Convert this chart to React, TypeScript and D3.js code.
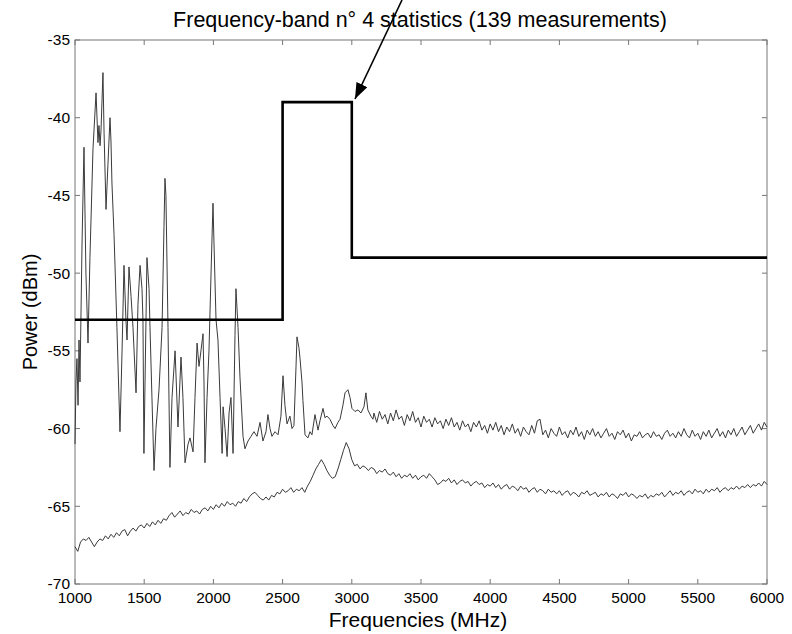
import React from "react";
import * as d3 from "d3";

const xTicks = [1000, 1500, 2000, 2500, 3000, 3500, 4000, 4500, 5000, 5500, 6000];
const yTicks = [-35, -40, -45, -50, -55, -60, -65, -70];

const limitFreq = [1000, 2500, 2500, 3000, 3000, 6000];
const limitVal = [-53, -53, -39, -39, -49, -49];

const upperSpikes: [number, number][] = [
  [1000,-61],[1007,-57],[1014,-55.5],[1022,-58.5],[1029,-54.3],[1036,-57],[1051,-48],[1065,-41.9],[1072,-46],[1079,-50],
  [1094,-54.5],[1108,-49],[1130,-42],[1152,-38.4],[1166,-41.6],[1173,-40.5],[1181,-41.8],[1188,-40.8],[1202,-37.1],[1210,-41],
  [1224,-45.9],[1238,-43],[1253,-40],[1260,-41.5],[1267,-44.2],[1282,-47.5],[1303,-53.5],[1325,-60.2],[1340,-55],[1354,-49.5],
  [1368,-53],[1376,-54.3],[1390,-49.6],[1405,-51.5],[1419,-53.5],[1441,-57.7],[1455,-52],[1470,-49.5],[1484,-51],[1491,-53],
  [1498,-61.6],[1513,-53],[1520,-49],[1535,-51],[1542,-53.5],[1556,-58],[1571,-62.7],[1585,-60],[1607,-57.5],[1629,-53.5],
  [1643,-47],[1650,-43.9],[1657,-45],[1672,-53.5],[1686,-62.5],[1701,-58],[1723,-55],[1744,-59.9],[1766,-55.4],[1780,-58],
  [1795,-62.2],[1817,-61],[1831,-60.6],[1853,-61.5],[1867,-58],[1882,-54.5],[1896,-56],[1910,-55],[1925,-53.9],[1932,-57],
  [1939,-62.2],[1954,-58],[1968,-55],[1983,-50],[1997,-45.5],[2004,-48],[2019,-53],[2033,-54.3],[2048,-58],[2063,-61.6],
  [2070,-58.6],[2084,-60],[2099,-61.8],[2113,-59],[2127,-58],[2142,-61.6],[2156,-54],[2163,-51],[2178,-53.5],[2192,-56.7],
  [2214,-60.5],[2228,-61.3],[2250,-60.8],[2272,-60.5],[2293,-60.2],[2315,-60.5],[2337,-59.6],[2358,-60.8],[2380,-60.2],[2394,-59.1],
  [2409,-60],[2423,-60.5],[2445,-60.2],[2467,-60.4],[2488,-59.2],[2503,-56.6],[2517,-58.5],[2532,-59.7],[2553,-59.2],[2568,-60],
  [2582,-59.8],[2597,-56],[2604,-54.1],[2618,-54.8],[2626,-55.5],[2640,-57],[2647,-58.2],[2662,-60.4],[2683,-60.6],[2698,-60.2],
  [2712,-60.4],[2734,-59.1],[2756,-60.1],[2770,-59.5],[2792,-58.7],[2806,-59.3],[2821,-59.2],[2842,-59.4],[2864,-59.8],[2879,-60],
  [2900,-59.6],[2915,-59.4],[2936,-58.5],[2951,-57.7],[2972,-57.5],[2987,-58],[3001,-58.7],[3023,-58.9],[3045,-58.8],[3066,-59],
  [3088,-58.6],[3102,-57.7],[3116,-58.8],[3138,-59.2],[3153,-59.4]
];

// upper trace, 3160..6000 MHz every 20 MHz
const upperTailStart = 3160;
const upperTailVal = [
  -59.0,-59.6,-58.9,-59.4,-59.1,-59.7,-59.0,-59.5,-58.8,-59.4,
  -59.2,-59.8,-59.1,-59.5,-58.9,-59.6,-59.3,-59.9,-59.2,-59.6,
  -59.4,-59.9,-59.3,-59.7,-59.5,-60.0,-59.4,-59.8,-59.3,-59.9,
  -59.6,-60.1,-59.5,-59.9,-59.7,-60.2,-59.6,-59.9,-59.5,-60.1,
  -59.8,-60.3,-59.7,-60.1,-59.6,-60.2,-59.8,-60.4,-59.9,-60.2,
  -59.7,-60.3,-60.0,-60.5,-59.9,-60.2,-60.4,-59.8,-60.3,-59.5,
  -59.4,-60.4,-60.1,-60.6,-60.0,-60.3,-60.5,-59.9,-60.4,-60.2,
  -60.6,-60.1,-60.4,-59.9,-60.5,-60.2,-60.7,-60.1,-60.4,-60.0,
  -60.5,-60.2,-60.6,-60.3,-60.0,-60.5,-60.3,-60.7,-60.2,-60.4,
  -60.1,-60.6,-60.3,-60.8,-60.4,-60.5,-60.2,-60.6,-60.4,-60.3,
  -60.6,-60.2,-60.5,-60.4,-60.7,-60.3,-60.1,-60.5,-60.3,-60.6,
  -60.2,-60.5,-60.0,-60.4,-60.6,-60.1,-60.5,-60.3,-60.7,-60.2,
  -60.5,-60.1,-60.6,-60.3,-60.0,-60.5,-60.2,-60.6,-60.1,-60.4,
  -60.0,-60.5,-60.2,-59.9,-60.4,-60.1,-59.8,-60.3,-60.0,-59.7,
  -60.1,-59.6,-59.9
];

// lower trace, 1000..6000 MHz every 20 MHz
const lowerStart = 1000;
const lowerVal = [
  -67.6,-67.9,-67.3,-67.1,-67.2,-67.0,-67.3,-67.6,-67.3,-67.1,
  -67.2,-66.9,-67.1,-66.8,-67.0,-66.7,-66.9,-66.6,-66.5,-66.9,
  -66.6,-66.4,-66.6,-66.3,-66.2,-66.4,-66.1,-66.3,-66.0,-66.2,
  -65.9,-66.1,-65.8,-65.9,-65.6,-65.4,-65.7,-65.5,-65.3,-65.6,
  -65.4,-65.5,-65.2,-65.4,-65.3,-65.5,-65.2,-65.1,-65.3,-65.0,
  -65.2,-64.9,-65.1,-64.8,-65.0,-64.7,-64.9,-64.8,-65.0,-64.7,
  -64.8,-64.5,-64.7,-64.4,-64.2,-64.1,-64.3,-64.5,-64.6,-64.4,
  -64.6,-64.3,-64.4,-64.1,-64.2,-63.9,-64.1,-64.0,-63.8,-64.1,
  -63.9,-64.0,-63.8,-64.1,-63.7,-63.4,-63.0,-62.6,-62.3,-62.0,
  -62.3,-62.7,-63.0,-63.2,-63.1,-62.6,-62.0,-61.4,-60.9,-61.3,
  -62.0,-62.4,-62.3,-62.6,-62.4,-62.5,-62.7,-62.5,-62.6,-62.9,
  -62.7,-62.8,-62.6,-62.9,-63.0,-62.8,-63.1,-62.9,-63.2,-63.0,
  -63.1,-62.9,-63.2,-63.0,-63.3,-63.1,-63.0,-63.2,-62.9,-63.1,
  -63.3,-63.6,-63.5,-63.3,-63.4,-63.2,-63.5,-63.3,-63.6,-63.4,
  -63.3,-63.5,-63.4,-63.7,-63.5,-63.4,-63.6,-63.5,-63.8,-63.6,
  -63.7,-63.5,-63.8,-63.6,-63.9,-63.7,-63.6,-63.9,-63.7,-63.8,
  -64.0,-63.7,-63.9,-63.8,-64.1,-63.9,-63.8,-64.1,-63.9,-64.0,
  -64.2,-63.9,-64.1,-64.0,-64.2,-64.0,-64.3,-64.1,-64.0,-64.3,
  -64.1,-64.2,-64.4,-64.1,-64.2,-64.0,-64.3,-64.2,-64.1,-64.4,
  -64.2,-64.3,-64.1,-64.4,-64.2,-64.3,-64.5,-64.2,-64.3,-64.1,
  -64.4,-64.2,-64.3,-64.5,-64.3,-64.4,-64.2,-64.5,-64.3,-64.4,
  -64.2,-64.3,-64.1,-64.4,-64.2,-64.0,-64.3,-64.1,-64.2,-64.0,
  -64.3,-64.1,-64.0,-64.2,-63.9,-64.1,-64.0,-64.2,-63.9,-64.1,
  -63.9,-64.0,-63.8,-64.1,-63.9,-63.8,-64.0,-63.8,-63.9,-63.7,
  -63.9,-63.7,-63.8,-63.6,-63.8,-63.6,-63.7,-63.5,-63.7,-63.4,
  -63.6
];
const step = 20;

const W = 792, H = 634;
const FONT = "Arial, 'Liberation Sans', Helvetica, sans-serif";
const AXIS = "#777";

export default function App() {
  const x = d3.scaleLinear().domain([1000, 6000]).range([75, 767]);
  const y = d3.scaleLinear().domain([-70, -35]).range([584, 40]);

  const upper: [number, number][] = [
    ...upperSpikes,
    ...upperTailVal.map((v, i) => [upperTailStart + i * step, v] as [number, number]),
  ];
  const lower: [number, number][] = lowerVal.map((v, i) => [lowerStart + i * step, v]);
  const limit: [number, number][] = limitFreq.map((f, i) => [f, limitVal[i]]);

  const line = d3.line<[number, number]>().x((d) => x(d[0])).y((d) => y(d[1]));

  const [x0, x1] = x.range();
  const [yb, yt] = y.range();
  const tl = 5;

  return (
    <svg width={W} height={H} style={{ position: "absolute", left: 0, top: 0, background: "#fff" }} fontFamily={FONT}>
      <defs>
        <marker id="ah" viewBox="0 0 16 12" refX="16" refY="6" markerWidth="16" markerHeight="12" markerUnits="userSpaceOnUse" orient="auto">
          <path d="M0,0 L16,6 L0,12 z" fill="#000" />
        </marker>
      </defs>
      {/* box */}
      <rect x={x0} y={yt} width={x1 - x0} height={yb - yt} fill="none" stroke={AXIS} strokeWidth={1} />
      {xTicks.map((t) => (
        <g key={"x" + t}>
          <line x1={x(t)} x2={x(t)} y1={yb} y2={yb - tl} stroke={AXIS} />
          <line x1={x(t)} x2={x(t)} y1={yt} y2={yt + tl} stroke={AXIS} />
          <text x={x(t)} y={603} textAnchor="middle" fontSize={15.5} fill="#000">{t}</text>
        </g>
      ))}
      {yTicks.map((t) => (
        <g key={"y" + t}>
          <line x1={x0} x2={x0 + tl} y1={y(t)} y2={y(t)} stroke={AXIS} />
          <line x1={x1} x2={x1 - tl} y1={y(t)} y2={y(t)} stroke={AXIS} />
          <text x={70} y={y(t)} dy="0.35em" textAnchor="end" fontSize={15.5} fill="#000">{t}</text>
        </g>
      ))}
      {/* traces */}
      <path d={line(lower) || ""} fill="none" stroke="#3a3a3a" strokeWidth={1} />
      <path d={line(upper) || ""} fill="none" stroke="#3a3a3a" strokeWidth={1} />
      <path d={line(limit) || ""} fill="none" stroke="#000" strokeWidth={2.6} />
      {/* arrow */}
      <line x1={402} y1={0} x2={355} y2={99} stroke="#000" strokeWidth={1.6} markerEnd="url(#ah)" />
      {/* labels */}
      <text x={420} y={27} textAnchor="middle" fontSize={21.5} fill="#000">Frequency-band n° 4 statistics (139 measurements)</text>
      <text x={418} y={627} textAnchor="middle" fontSize={21} fill="#000">Frequencies (MHz)</text>
      <text transform={`translate(37,312) rotate(-90)`} textAnchor="middle" fontSize={20} fill="#000">Power (dBm)</text>
    </svg>
  );
}
